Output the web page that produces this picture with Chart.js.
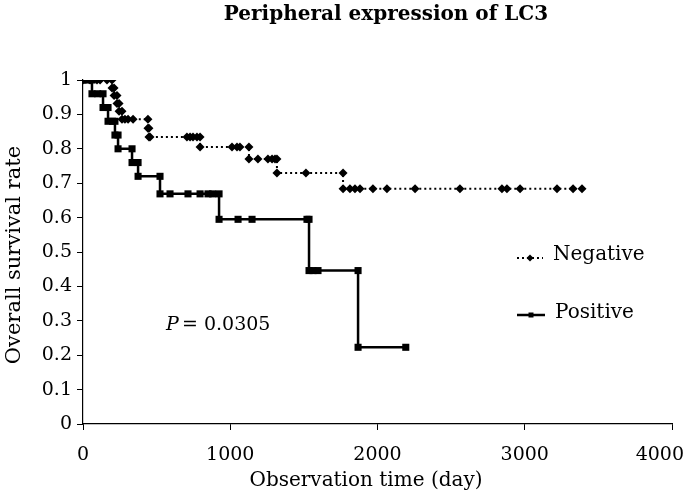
<!DOCTYPE html>
<html>
<head>
<meta charset="utf-8">
<script src="https://cdn.jsdelivr.net/npm/chart.js@4/dist/chart.umd.min.js"></script>
<style>
html, body { margin: 0; padding: 0; background: #fff; }
</style>
</head>
<body>
<canvas id="km" width="685" height="494"></canvas>
<script>
// Kaplan-Meier curves (days, survival rate)
var chartTitle = 'Peripheral expression of LC3';
var seriesNames = ['Negative', 'Positive'];
var pValueText = '= 0.0305';

var negDays = [0, 48, 95, 116, 163, 197, 197, 211, 211, 231, 231, 245, 245, 265, 265, 285, 306, 340, 441, 441,
  448, 448, 455, 706, 727, 747, 774, 795, 795, 1012, 1046, 1066, 1127, 1127, 1188, 1256, 1284, 1304, 1317, 1317,
  1514, 1766, 1766, 1813, 1847, 1881, 1969, 2064, 2255, 2560, 2845, 2879, 2968, 3219, 3328, 3389];
var negRate = [1, 1, 1, 1, 1, 1, 0.977, 0.977, 0.955, 0.955, 0.932, 0.932, 0.909, 0.909, 0.886, 0.886, 0.886, 0.886, 0.886,
  0.860, 0.860, 0.834, 0.834, 0.834, 0.834, 0.834, 0.834, 0.834, 0.805, 0.805, 0.805, 0.805, 0.805,
  0.770, 0.770, 0.770, 0.770, 0.770, 0.770, 0.730, 0.730, 0.730,
  0.684, 0.684, 0.684, 0.684, 0.684, 0.684, 0.684, 0.684, 0.684, 0.684, 0.684, 0.684, 0.684, 0.684];

var posDays = [0, 30, 61, 61, 100, 136, 136, 170, 170, 200, 217, 217, 238, 238, 333, 333, 374, 374, 523,
  523, 591, 713, 795, 849, 880, 924, 924, 1053, 1148, 1521, 1535, 1535, 1562, 1596, 1868, 1868, 2192];
var posRate = [1, 1, 1, 0.96, 0.96, 0.96, 0.92, 0.92, 0.88, 0.88, 0.88, 0.84, 0.84, 0.80, 0.80, 0.76, 0.76, 0.72, 0.72,
  0.669, 0.669, 0.669, 0.669, 0.669, 0.669, 0.669, 0.595, 0.595, 0.595, 0.595, 0.595,
  0.446, 0.446, 0.446, 0.446, 0.223, 0.223];

var xTicks = [0, 1000, 2000, 3000, 4000];
var yTicks = [0, 0.1, 0.2, 0.3, 0.4, 0.5, 0.6, 0.7, 0.8, 0.9, 1];
var xTitle = 'Observation time (day)';
var yTitle = 'Overall survival rate';

var serif = '"DejaVu Serif", "Liberation Serif", serif';

function toPoints(xs, ys) {
  var pts = [];
  for (var i = 0; i < xs.length; i++) pts.push({x: xs[i], y: ys[i]});
  return pts;
}

function marker(ctx, style, x, y, r) {
  ctx.beginPath();
  if (style == 'rectRot') {
    ctx.moveTo(x - r, y); ctx.lineTo(x, y - r); ctx.lineTo(x + r, y); ctx.lineTo(x, y + r);
  } else {
    ctx.rect(x - r, y - r, 2 * r, 2 * r);
  }
  ctx.closePath();
  ctx.fill();
}

var textPlugin = {
  id: 'texts',
  afterDraw: function(chart) {
    var ctx = chart.ctx;
    var a = chart.chartArea;
    var xs = chart.scales.x;
    ctx.save();
    ctx.fillStyle = '#000';
    ctx.strokeStyle = '#000';
    ctx.textBaseline = 'middle';

    ctx.textAlign = 'center';
    ctx.font = 'bold 20px ' + serif;
    ctx.fillText(chartTitle, 386, 15);

    // x tick labels (last one kept inside the canvas, as in the figure)
    ctx.font = '19px ' + serif;
    xTicks.forEach(function(v) {
      var px = xs.getPixelForValue(v);
      var half = ctx.measureText(String(v)).width / 2;
      if (px + half > chart.width - 1) px = chart.width - 1 - half;
      ctx.fillText(String(v), px, a.bottom + 31);
    });

    ctx.font = '20px ' + serif;
    ctx.fillText(xTitle, 366, 481);

    ctx.save();
    ctx.font = '21px ' + serif;
    ctx.translate(15, (a.top + a.bottom) / 2 + 3);
    ctx.rotate(-Math.PI / 2);
    ctx.fillText(yTitle, 0, 0);
    ctx.restore();

    // legend
    ctx.textAlign = 'left';
    ctx.font = '20px ' + serif;
    ctx.lineWidth = 2;
    ctx.setLineDash([2, 3]);
    ctx.beginPath(); ctx.moveTo(517, 258); ctx.lineTo(543, 258); ctx.stroke();
    ctx.setLineDash([]);
    marker(ctx, 'rectRot', 530, 258, 3.5);
    ctx.fillText(seriesNames[0], 553, 255);

    ctx.lineWidth = 2.5;
    ctx.beginPath(); ctx.moveTo(517, 315); ctx.lineTo(545, 315); ctx.stroke();
    marker(ctx, 'rect', 531, 315, 2.5);
    ctx.fillText(seriesNames[1], 555, 313);

    // p value
    ctx.font = 'italic 19px ' + serif;
    ctx.fillText('P', 166, 325);
    ctx.font = '19px ' + serif;
    ctx.fillText(pValueText, 182, 325);
    ctx.restore();
  }
};

new Chart(document.getElementById('km'), {
  type: 'line',
  data: {
    datasets: [{
      label: seriesNames[0],
      data: toPoints(negDays, negRate),
      borderColor: '#000',
      backgroundColor: '#000',
      borderWidth: 2,
      borderDash: [2, 3],
      pointStyle: 'rectRot',
      pointRadius: 4.5,
      pointBorderWidth: 0,
      tension: 0,
      fill: false
    }, {
      label: seriesNames[1],
      data: toPoints(posDays, posRate),
      borderColor: '#000',
      backgroundColor: '#000',
      borderWidth: 2.5,
      pointStyle: 'rect',
      pointRadius: 5,
      pointBorderWidth: 0,
      tension: 0,
      fill: false
    }]
  },
  options: {
    responsive: false,
    animation: false,
    layout: { padding: { top: 80, right: 13, left: 0, bottom: 0 } },
    plugins: {
      legend: { display: false },
      title: { display: false },
      tooltip: { enabled: false }
    },
    scales: {
      x: {
        type: 'linear',
        min: 0, max: 4000,
        afterBuildTicks: function(s) { s.ticks = xTicks.map(function(v) { return {value: v}; }); },
        afterFit: function(s) { s.height = 70; s.paddingLeft = 0; s.paddingRight = 0; },
        border: { color: '#000', width: 1.2 },
        grid: { drawOnChartArea: false, color: '#000', tickLength: 6 },
        ticks: { display: false }
      },
      y: {
        min: 0, max: 1,
        afterBuildTicks: function(s) { s.ticks = yTicks.map(function(v) { return {value: v}; }); },
        afterFit: function(s) { s.width = 83; s.paddingTop = 0; s.paddingBottom = 0; },
        border: { color: '#000', width: 1.2 },
        grid: { drawOnChartArea: false, color: '#000', tickLength: 6 },
        ticks: {
          color: '#000', padding: 5,
          font: { family: serif, size: 19 },
          callback: function(v) { return String(v); }
        }
      }
    }
  },
  plugins: [textPlugin]
});
</script>
</body>
</html>
